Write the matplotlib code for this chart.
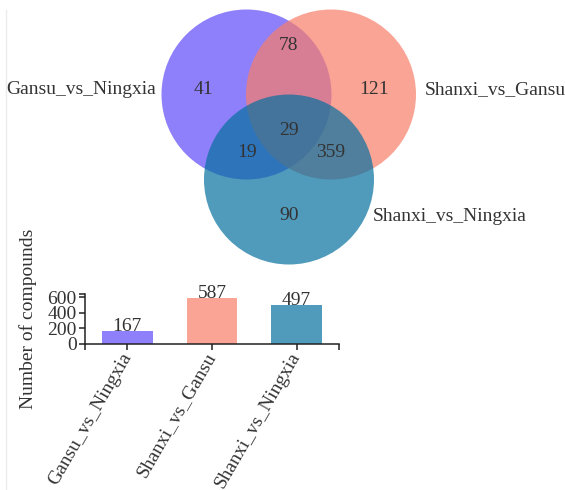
import matplotlib.pyplot as plt
from matplotlib.patches import Circle

plt.rcParams['font.family'] = ['Liberation Serif', 'DejaVu Serif']

# comparison groups and the number of differential compounds in each
groups = ['Gansu_vs_Ningxia', 'Shanxi_vs_Gansu', 'Shanxi_vs_Ningxia']
totals = [167, 587, 497]

# venn region counts
only_counts = [41, 121, 90]      # Gansu_vs_Ningxia, Shanxi_vs_Gansu, Shanxi_vs_Ningxia only
pair_counts = [78, 19, 359]      # GN&SG, GN&SN, SG&SN
all_count = 29

colors = ['#5f4af8', '#f87e69', '#06709f']
alpha = 0.7
text_col = '#333333'

fig = plt.figure(figsize=(5.65, 4.9), dpi=100)

# venn part drawn in pixel coordinates
ax = fig.add_axes([0, 0, 1, 1])
ax.set_xlim(0, 565)
ax.set_ylim(490, 0)
ax.axis('off')

centers = [(246.5, 94.5), (331, 94.5), (289, 179.5)]
radius = 85
for c, col in zip(centers, colors):
    ax.add_patch(Circle(c, radius, facecolor=col, edgecolor='none', alpha=alpha))

only_pos = [(203, 89), (374, 89), (289, 215)]
pair_pos = [(289, 46), (247, 152), (331, 152)]
for (x, y), n in zip(only_pos + pair_pos, only_counts + pair_counts):
    ax.text(x, y, str(n), ha='center', va='center', fontsize=14, color=text_col)
ax.text(289, 130, str(all_count), ha='center', va='center', fontsize=14, color=text_col)

ax.text(156, 89.5, groups[0], ha='right', va='center', fontsize=14, color=text_col)
ax.text(425, 89.5, groups[1], ha='left', va='center', fontsize=14, color=text_col)
ax.text(373, 216, groups[2], ha='left', va='center', fontsize=14, color=text_col)

ax.plot([6, 6], [10, 490], color='#ebebeb', lw=1)

# bar chart of group totals
bx = fig.add_axes([85 / 565, (490 - 344) / 490, 254 / 565, 50.4 / 490])
bx.patch.set_alpha(0)
pos = range(len(groups))
bx.bar(pos, totals, width=0.6, color=colors, alpha=alpha)
for p, v in zip(pos, totals):
    bx.text(p, v, str(v), ha='center', va='baseline', fontsize=14, color=text_col)

bx.set_xlim(-0.5, 2.5)
bx.set_ylim(0, 645)
bx.set_yticks([0, 200, 400, 600])
bx.set_yticks([645], minor=True)
bx.set_xticks(list(pos))
bx.set_xticks([-0.5, 2.5], minor=True)
bx.set_xticklabels(groups, rotation=60, ha='right', va='center', rotation_mode='anchor')
for s in ['top', 'right']:
    bx.spines[s].set_visible(False)
for s in ['left', 'bottom']:
    bx.spines[s].set_linewidth(1.1)
    bx.spines[s].set_color('#222222')
bx.tick_params(which='both', length=4, width=1.1, color='#222222', labelsize=14,
               labelcolor=text_col, pad=2)
bx.tick_params(axis='x', pad=3)
bx.set_ylabel('Number of compounds', fontsize=14, color=text_col)
bx.yaxis.set_label_coords(-0.224, 0.5)
bx.yaxis.label.set_va('center')

fig.savefig('out.png', dpi=100)
